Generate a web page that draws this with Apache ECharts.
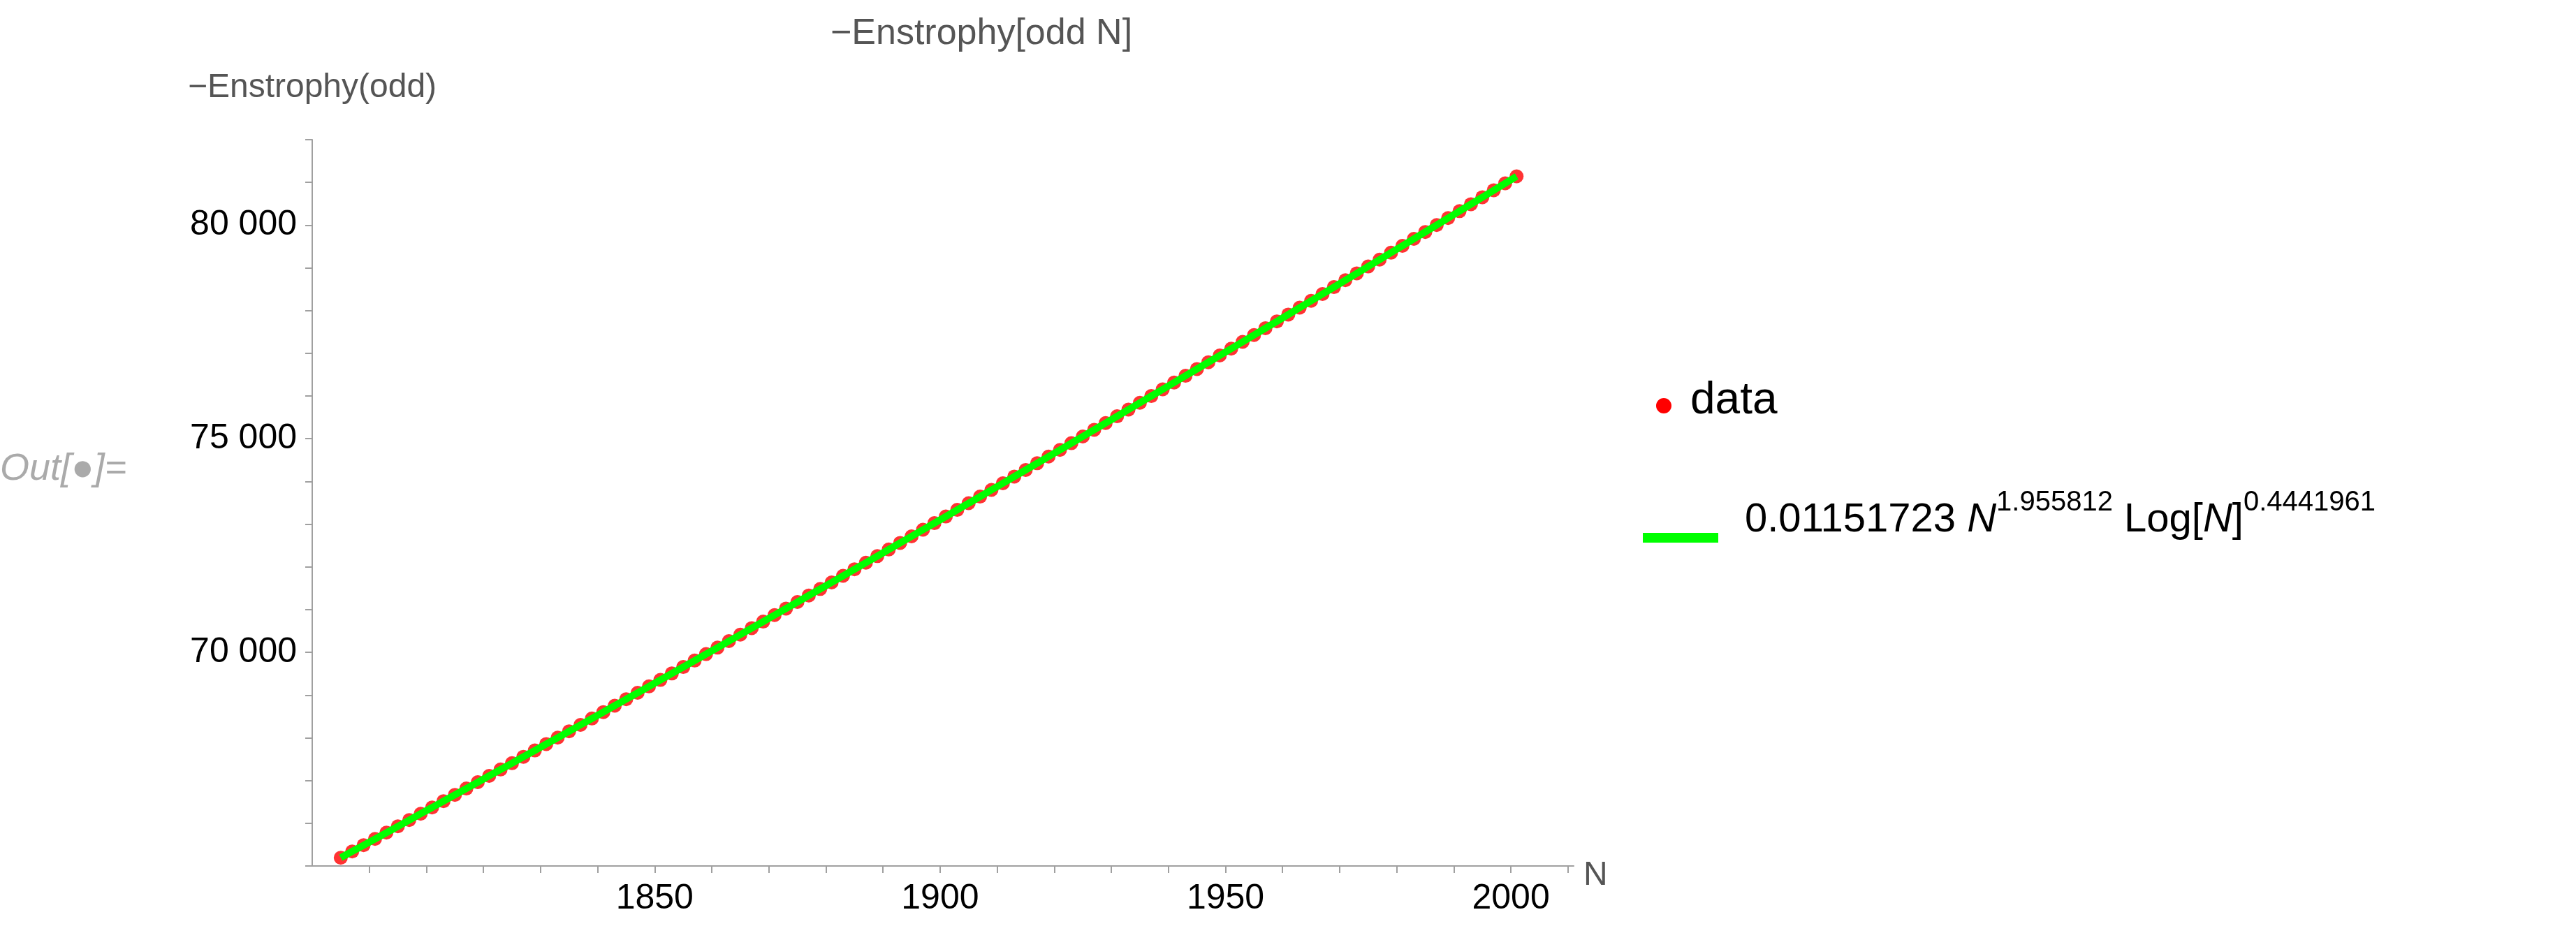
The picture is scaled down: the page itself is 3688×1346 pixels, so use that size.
<!DOCTYPE html>
<html>
<head>
<meta charset="utf-8">
<script src="https://cdn.jsdelivr.net/npm/echarts@6/dist/echarts.min.js"></script>
<style>
html,body{margin:0;padding:0;background:#fff;}
#chart{width:3688px;height:1346px;}
</style>
</head>
<body>
<div id="chart"></div>
<script>
// odd N from 1795 to 2001
const nStart = 1795;
const nStep = 2;
// -Enstrophy values
const enstrophy = [
  65193, 65340, 65486,
  65633, 65780, 65927, 66074, 66222, 66369, 66517, 66665, 66813, 66961,
  67109, 67258, 67406, 67555, 67704, 67854, 68003, 68152, 68302, 68452,
  68602, 68752, 68903, 69053, 69204, 69355, 69506, 69657, 69808, 69960,
  70111, 70263, 70415, 70567, 70720, 70872, 71025, 71178, 71331, 71484,
  71637, 71791, 71945, 72098, 72252, 72407, 72561, 72715, 72870, 73025,
  73180, 73335, 73491, 73646, 73802, 73958, 74114, 74270, 74426, 74583,
  74739, 74896, 75053, 75210, 75368, 75525, 75683, 75841, 75999, 76157,
  76315, 76474, 76632, 76791, 76950, 77109, 77268, 77428, 77588, 77747,
  77907, 78068, 78228, 78388, 78549, 78710, 78871, 79032, 79193, 79355,
  79516, 79678, 79840, 80002, 80165, 80327, 80490, 80653, 80816, 80979,
  81142
];
// fitted curve at the same N
const fitValues = enstrophy.slice();
const xLabels = [1850, 1900, 1950, 2000];
const yLabels = [70000, 75000, 80000];

const dataPts = enstrophy.map((v, i) => [nStart + i * nStep, v]);
const fitPts = fitValues.map((v, i) => [nStart + i * nStep, v]);

const chart = echarts.init(document.getElementById('chart'));
const axisGray = '#a0a0a0';
const font = 'Liberation Sans, Arial, sans-serif';

chart.setOption({
  animation: false,
  title: {
    text: '−Enstrophy[odd N]',
    left: 1400, top: 18, textAlign: 'center',
    textStyle: {color: '#555', fontSize: 52, fontWeight: 'normal', fontFamily: font}
  },
  grid: {left: 447, right: 1435, top: 200, bottom: 106},
  xAxis: {
    type: 'value', min: 1790, max: 2011, interval: 10,
    name: 'N', nameLocation: 'end', nameGap: 14,
    nameTextStyle: {color: '#555', fontSize: 48, fontFamily: font, verticalAlign: 'top', padding: [-10, 0, 0, 0]},
    axisLine: {show: true, onZero: false, lineStyle: {color: axisGray, width: 2}},
    axisTick: {show: true, length: 10, lineStyle: {color: axisGray, width: 2}},
    splitLine: {show: false},
    axisLabel: {
      color: '#000', fontSize: 50, fontFamily: font, margin: 22, showMaxLabel: false, showMinLabel: false,
      formatter: v => xLabels.includes(v) ? String(v) : ''
    }
  },
  yAxis: {
    type: 'value', min: 65000, max: 82000, interval: 1000,
    name: '−Enstrophy(odd)', nameLocation: 'end', nameGap: 50,
    nameTextStyle: {color: '#555', fontSize: 48, fontFamily: font, align: 'center', padding: [0, 0, 0, 0]},
    axisLine: {show: true, onZero: false, lineStyle: {color: axisGray, width: 2}},
    axisTick: {show: true, length: 10, lineStyle: {color: axisGray, width: 2}},
    splitLine: {show: false},
    axisLabel: {
      color: '#000', fontSize: 50, fontFamily: font, margin: 22,
      formatter: v => yLabels.includes(v) ? String(v).replace(/(\d{2})(\d{3})/, '$1 $2') : ''
    }
  },
  series: [
    {
      type: 'scatter', data: dataPts, symbolSize: 20,
      itemStyle: {color: '#ff0000'}, z: 2
    },
    {
      type: 'line', data: fitPts, showSymbol: false, smooth: false,
      lineStyle: {color: '#00ff00', width: 10}, z: 3
    }
  ],
  graphic: [
    {type: 'text', left: 0, top: 645,
     style: {text: 'Out[\u25CF]=', fill: '#aaa', fontSize: 54, fontStyle: 'italic', fontFamily: font}},
    {type: 'circle', shape: {cx: 2382, cy: 581, r: 11}, style: {fill: '#ff0000'}},
    {type: 'text', left: 2420, top: 542,
     style: {text: 'data', fill: '#000', fontSize: 64, fontFamily: font}},
    {type: 'rect', shape: {x: 2352, y: 763, width: 108, height: 14}, style: {fill: '#00ff00'}},
    {type: 'text', left: 2498, top: 700,
     style: {
       text: '{n|0.01151723 }{i|N}{s|1.955812}{n| Log[}{i|N}{n|]}{s|0.4441961}',
       rich: {
         n: {fontSize: 58, fill: '#000', fontFamily: font, verticalAlign: 'bottom', lineHeight: 100},
         i: {fontSize: 58, fill: '#000', fontFamily: font, fontStyle: 'italic', verticalAlign: 'bottom', lineHeight: 100},
         s: {fontSize: 40, fill: '#000', fontFamily: font, verticalAlign: 'bottom', lineHeight: 100, padding: [0, 0, 34, 0]}
       }
     }}
  ]
});
</script>
</body>
</html>
